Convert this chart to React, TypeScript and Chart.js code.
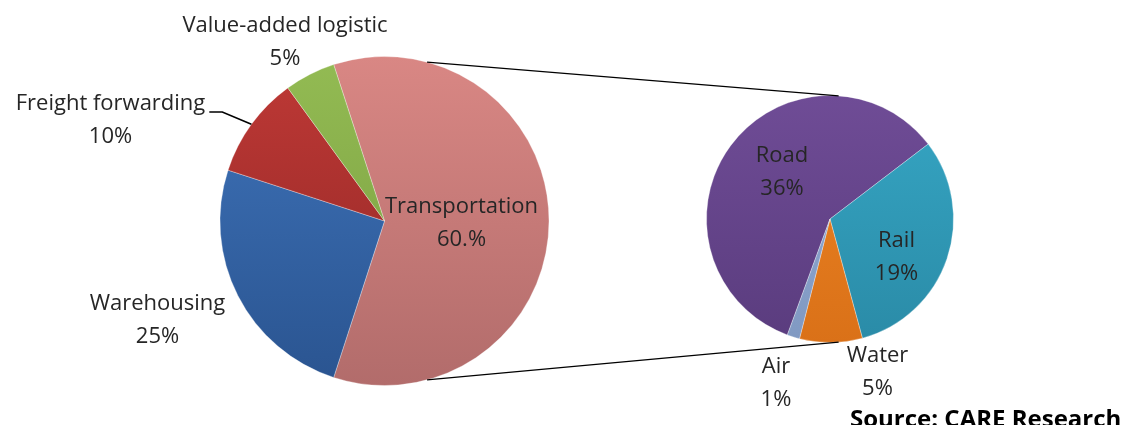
import React, { useEffect, useRef } from 'react';
import { Chart, registerables } from 'chart.js';

Chart.register(...registerables);

// ---------- data ----------
const primaryCategories = ['Transportation', 'Warehousing', 'Freight forwarding', 'Value-added logistic'];
const primaryValues = [60, 25, 10, 5];
const primaryValueLabels = ['60.%', '25%', '10%', '5%'];

const secondaryCategories = ['Road', 'Rail', 'Water', 'Air'];
const secondaryValues = [36, 19, 5, 1];
const secondaryValueLabels = ['36%', '19%', '5%', '1%'];

const sourceText = 'Source: CARE Research';

// ---------- styles / layout ----------
const W = 1135;
const H = 425;

const primaryColors: [string, string][] = [
  ['#D98784', '#B26C6B'],
  ['#3F74BB', '#2A5490'],
  ['#BF3936', '#8F2624'],
  ['#93BB53', '#789C3F'],
];
const secondaryColors: [string, string][] = [
  ['#6F4C96', '#5A3C7E'],
  ['#36A6C4', '#2A8BA7'],
  ['#EC8424', '#DA7118'],
  ['#93ABD4', '#8099C2'],
];

// label anchor offsets from the pie centre (centre-x of text, baseline of first line)
const primaryLabelOffsets: [number, number][] = [[77, -8], [-227, 89], [-274, -111], [-99.5, -189]];
const secondaryLabelOffsets: [number, number][] = [[-48, -57], [66.5, 28], [47.5, 143], [-54, 154]];
const primaryLeader = [false, false, true, false];
const LINE_H = 33;
const FONT = '22px "Open Sans", "Noto Sans", sans-serif';
const TEXT_COLOR = '#262626';

// connector line angles (degrees clockwise from 12 o'clock)
const connectorTop = { primary: 15, secondary: 4 };
const connectorBottom = { primary: 165, secondary: 176 };

function gradientColor(colors: [string, string][]) {
  return (ctx: any) => {
    const chart = ctx.chart;
    const area = chart.chartArea;
    const pair = colors[ctx.dataIndex % colors.length];
    if (!area) return pair[0];
    const g = chart.ctx.createLinearGradient(0, area.top, 0, area.bottom);
    g.addColorStop(0, pair[0]);
    g.addColorStop(1, pair[1]);
    return g;
  };
}

function drawLabels(chart: any, names: string[], values: string[], offsets: [number, number][], leaders?: boolean[]) {
  const meta = chart.getDatasetMeta(0);
  const arc0: any = meta.data[0];
  if (!arc0) return;
  const cx = arc0.x;
  const cy = arc0.y;
  const ctx: CanvasRenderingContext2D = chart.ctx;
  ctx.save();
  ctx.font = FONT;
  ctx.fillStyle = TEXT_COLOR;
  ctx.textAlign = 'center';
  ctx.textBaseline = 'alphabetic';
  names.forEach((name, i) => {
    const [dx, dy] = offsets[i];
    const x = cx + dx;
    const y = cy + dy;
    ctx.fillText(name, x, y);
    ctx.fillText(values[i], x, y + LINE_H);
    if (leaders && leaders[i]) {
      const arc: any = meta.data[i];
      const mid = (arc.startAngle + arc.endAngle) / 2;
      const ex = arc.x + arc.outerRadius * Math.cos(mid);
      const ey = arc.y + arc.outerRadius * Math.sin(mid);
      const tw = ctx.measureText(name).width;
      const sx = x + tw / 2 + 4;
      const sy = y + 2;
      ctx.save();
      ctx.strokeStyle = '#000';
      ctx.lineWidth = 1.6;
      ctx.beginPath();
      ctx.moveTo(sx, sy);
      ctx.lineTo(sx + 13, sy);
      ctx.lineTo(ex, ey);
      ctx.stroke();
      ctx.restore();
    }
  });
  ctx.restore();
}

function pointOn(arc: any, deg: number) {
  const a = ((deg - 90) * Math.PI) / 180;
  return [arc.x + arc.outerRadius * Math.cos(a), arc.y + arc.outerRadius * Math.sin(a)];
}

export default function App() {
  const c1 = useRef<HTMLCanvasElement>(null);
  const c2 = useRef<HTMLCanvasElement>(null);

  useEffect(() => {
    const main = new Chart(c1.current!, {
      type: 'pie',
      data: {
        labels: primaryCategories,
        datasets: [
          {
            data: primaryValues,
            backgroundColor: gradientColor(primaryColors) as any,
            borderColor: 'rgba(255,255,255,0.3)',
            borderWidth: 1,
            hoverOffset: 0,
          },
        ],
      },
      options: {
        responsive: false,
        animation: false,
        rotation: -18,
        layout: { padding: { left: 219.5, right: W - 549.5, top: 56, bottom: H - 386 } },
        plugins: { legend: { display: false }, tooltip: { enabled: false } },
        events: [],
      },
      plugins: [
        {
          id: 'primaryLabels',
          afterDatasetsDraw(chart: any) {
            drawLabels(chart, primaryCategories, primaryValueLabels, primaryLabelOffsets, primaryLeader);
          },
        },
      ],
    });

    const secondary = new Chart(c2.current!, {
      type: 'pie',
      data: {
        labels: secondaryCategories,
        datasets: [
          {
            data: secondaryValues,
            backgroundColor: gradientColor(secondaryColors) as any,
            borderColor: 'rgba(255,255,255,0.3)',
            borderWidth: 1,
            hoverOffset: 0,
          },
        ],
      },
      options: {
        responsive: false,
        animation: false,
        rotation: 200.2,
        layout: { padding: { left: 706, right: W - 954, top: 95, bottom: H - 343 } },
        plugins: { legend: { display: false }, tooltip: { enabled: false } },
        events: [],
      },
      plugins: [
        {
          id: 'secondaryExtras',
          afterDatasetsDraw(chart: any) {
            drawLabels(chart, secondaryCategories, secondaryValueLabels, secondaryLabelOffsets);
            const mArc: any = main.getDatasetMeta(0).data[0];
            const sArc: any = chart.getDatasetMeta(0).data[0];
            const ctx: CanvasRenderingContext2D = chart.ctx;
            if (mArc && sArc) {
              ctx.save();
              ctx.strokeStyle = '#000';
              ctx.lineWidth = 1.2;
              [connectorTop, connectorBottom].forEach((c) => {
                const [x1, y1] = pointOn(mArc, c.primary);
                const [x2, y2] = pointOn(sArc, c.secondary);
                ctx.beginPath();
                ctx.moveTo(x1, y1);
                ctx.lineTo(x2, y2);
                ctx.stroke();
              });
              ctx.restore();
            }
            ctx.save();
            ctx.font = 'bold 24px "Open Sans", "Noto Sans", sans-serif';
            ctx.fillStyle = '#000';
            ctx.textAlign = 'left';
            ctx.textBaseline = 'alphabetic';
            ctx.fillText(sourceText, 850, 427, 278);
            ctx.restore();
          },
        },
      ],
    });

    return () => {
      main.destroy();
      secondary.destroy();
    };
  }, []);

  return (
    <div style={{ position: 'fixed', left: 0, top: 0, width: W, height: H, background: '#fff', overflow: 'hidden' }}>
      <canvas ref={c1} width={W} height={H} style={{ position: 'absolute', left: 0, top: 0 }} />
      <canvas ref={c2} width={W} height={H} style={{ position: 'absolute', left: 0, top: 0 }} />
    </div>
  );
}
